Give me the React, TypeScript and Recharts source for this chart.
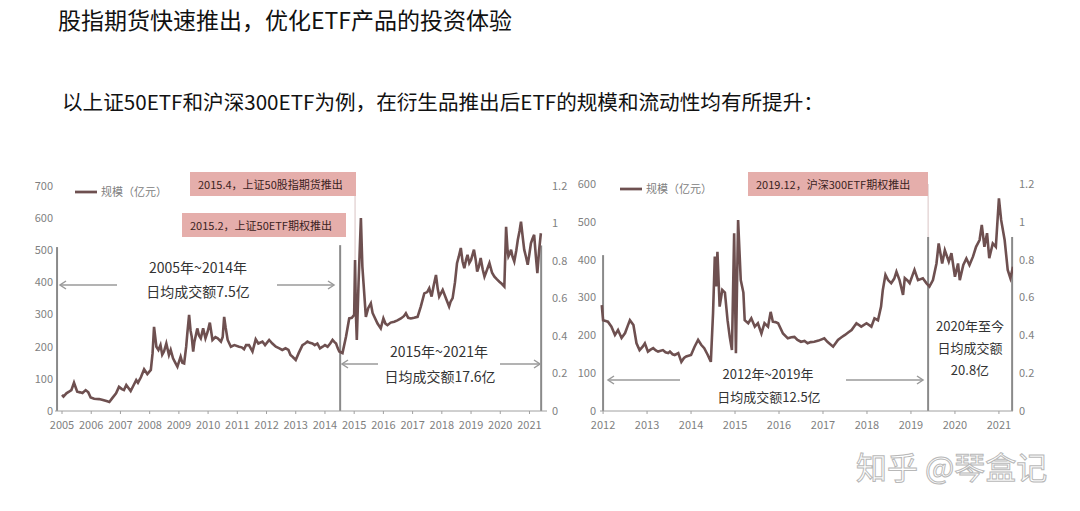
import React from "react";
import { LineChart, Line, XAxis, YAxis, ReferenceLine, Legend } from "recharts";

// 上证50ETF 规模（亿元）
const leftYears = [
  2005.0, 2005.05, 2005.15, 2005.24, 2005.32, 2005.41, 2005.52, 2005.62, 2005.7, 2005.81, 2005.9, 2005.98,
  2006.1, 2006.27, 2006.4, 2006.55, 2006.62, 2006.72, 2006.85, 2006.95, 2007.05, 2007.12, 2007.2, 2007.35,
  2007.45, 2007.54, 2007.6, 2007.7, 2007.81, 2007.92, 2008.04, 2008.1, 2008.15, 2008.23, 2008.3, 2008.37,
  2008.43, 2008.49, 2008.57, 2008.66, 2008.72, 2008.8, 2008.88, 2008.95, 2009.06, 2009.12, 2009.18, 2009.25,
  2009.29, 2009.35, 2009.4, 2009.44, 2009.49, 2009.53, 2009.57, 2009.63, 2009.69, 2009.75, 2009.83, 2009.91,
  2009.98, 2010.06, 2010.15, 2010.25, 2010.33, 2010.44, 2010.5, 2010.55, 2010.6, 2010.67, 2010.78, 2010.9,
  2011.06, 2011.15, 2011.23, 2011.3, 2011.4, 2011.52, 2011.63, 2011.72, 2011.86, 2011.95, 2012.09, 2012.2,
  2012.32, 2012.44, 2012.54, 2012.65, 2012.75, 2012.82, 2012.9, 2013.0, 2013.1, 2013.23, 2013.32, 2013.4,
  2013.48, 2013.57, 2013.65, 2013.74, 2013.83, 2013.92, 2014.0, 2014.09, 2014.18, 2014.26, 2014.32, 2014.38,
  2014.44, 2014.49, 2014.6, 2014.72, 2014.83, 2014.92, 2015.0, 2015.03, 2015.06, 2015.09, 2015.15, 2015.23,
  2015.28, 2015.32, 2015.4, 2015.48, 2015.57, 2015.63, 2015.69, 2015.8, 2015.91, 2016.0, 2016.07, 2016.14,
  2016.25, 2016.37, 2016.48, 2016.6, 2016.7, 2016.77, 2016.85, 2016.94, 2017.05, 2017.17, 2017.28, 2017.4,
  2017.5, 2017.57, 2017.65, 2017.72, 2017.8, 2017.86, 2017.91, 2018.03, 2018.14, 2018.25, 2018.3, 2018.37,
  2018.45, 2018.52, 2018.58, 2018.65, 2018.71, 2018.77, 2018.83, 2018.88, 2018.94, 2019.0, 2019.1, 2019.16,
  2019.21, 2019.27, 2019.33, 2019.4, 2019.46, 2019.55, 2019.63, 2019.72, 2019.8, 2019.88, 2019.97, 2020.06,
  2020.14, 2020.2, 2020.25, 2020.28, 2020.33, 2020.37, 2020.42, 2020.48, 2020.55, 2020.6, 2020.66, 2020.71,
  2020.77, 2020.82, 2020.88, 2020.94, 2021.0, 2021.05, 2021.1, 2021.16, 2021.22, 2021.27, 2021.33, 2021.39,
];
const leftScale = [
  50, 45, 55, 60, 65, 88, 60, 58, 56, 65, 58, 42,
  38, 37, 34, 30, 28, 40, 55, 75, 68, 65, 81, 62,
  80, 96, 88, 105, 130, 115, 128, 180, 262, 200, 190, 205,
  175, 185, 210, 174, 190, 164, 150, 138, 169, 150, 148, 200,
  242, 299, 250, 231, 185, 215, 231, 257, 235, 226, 257, 226,
  245, 275, 221, 230, 226, 216, 230, 293, 260, 221, 200, 205,
  200, 198, 192, 205, 205, 185, 223, 210, 216, 205, 221, 210,
  200, 195, 190, 195, 190, 174, 168, 159, 180, 205, 210, 216,
  212, 210, 205, 210, 195, 200, 205, 200, 210, 221, 215, 210,
  195, 185, 180, 231, 288, 290, 299, 470, 300, 221, 398, 600,
  450, 398, 293, 320, 335, 305, 293, 272, 257, 288, 272, 267,
  275, 278, 282, 288, 295, 304, 290, 288, 290, 293, 325, 366,
  370, 382, 356, 390, 423, 380, 356, 377, 351, 325, 340, 351,
  400, 460, 480, 507, 465, 444, 470, 486, 460, 470, 502, 470,
  434, 450, 476, 440, 418, 440, 460, 430, 418, 410, 402, 395,
  387, 573, 500, 481, 490, 502, 480, 465, 500, 532, 560, 589,
  540, 502, 480, 455, 490, 522, 535, 548, 480, 429, 500, 553,
];

// 沪深300ETF 规模（亿元）
const rightYears = [
  2011.97, 2012.0, 2012.06, 2012.11, 2012.19, 2012.27, 2012.34, 2012.42, 2012.5, 2012.56, 2012.61, 2012.69,
  2012.76, 2012.83, 2012.9, 2012.95, 2013.02, 2013.08, 2013.14, 2013.2, 2013.25, 2013.36, 2013.42, 2013.48,
  2013.52, 2013.58, 2013.63, 2013.71, 2013.78, 2013.84, 2013.89, 2014.0, 2014.08, 2014.16, 2014.23, 2014.3,
  2014.38, 2014.45, 2014.5, 2014.54, 2014.57, 2014.6, 2014.65, 2014.71, 2014.77, 2014.83, 2014.88, 2014.93,
  2014.98, 2015.02, 2015.07, 2015.13, 2015.19, 2015.22, 2015.3, 2015.37, 2015.45, 2015.52, 2015.6, 2015.67,
  2015.75, 2015.81, 2015.86, 2015.92, 2015.98, 2016.09, 2016.2, 2016.28, 2016.35, 2016.42, 2016.5, 2016.58,
  2016.65, 2016.72, 2016.8, 2016.9, 2017.03, 2017.1, 2017.23, 2017.34, 2017.42, 2017.5, 2017.58, 2017.65,
  2017.76, 2017.87, 2017.99, 2018.1, 2018.17, 2018.25, 2018.32, 2018.36, 2018.42, 2018.48, 2018.55, 2018.62,
  2018.67, 2018.74, 2018.82, 2018.86, 2018.92, 2018.97, 2019.08, 2019.16, 2019.27, 2019.35, 2019.42, 2019.5,
  2019.58, 2019.63, 2019.71, 2019.77, 2019.86, 2019.92, 2020.0, 2020.07, 2020.11, 2020.19, 2020.26, 2020.33,
  2020.41, 2020.48, 2020.56, 2020.61, 2020.67, 2020.73, 2020.78, 2020.86, 2020.93, 2021.0, 2021.05, 2021.13,
  2021.2, 2021.26, 2021.32,
];
const rightScale = [
  280, 240, 238, 236, 223, 201, 214, 193, 206, 225, 240, 227,
  179, 161, 170, 179, 157, 162, 166, 160, 157, 161, 155, 153,
  157, 150, 148, 153, 130, 140, 144, 148, 170, 188, 175, 166,
  148, 130, 258, 408, 329, 421, 276, 320, 313, 240, 196, 161,
  470, 153, 505, 346, 313, 240, 232, 245, 223, 232, 205, 232,
  223, 262, 236, 235, 232, 205, 192, 195, 196, 188, 183, 185,
  179, 182, 183, 186, 192, 183, 170, 188, 195, 201, 208, 214,
  232, 223, 232, 223, 245, 240, 276, 320, 360, 346, 338, 350,
  368, 346, 307, 351, 345, 338, 373, 346, 351, 338, 329, 346,
  390, 443, 390, 425, 395, 417, 355, 390, 346, 386, 403, 386,
  408, 434, 452, 492, 434, 470, 404, 443, 434, 562, 505, 452,
  373, 351, 381,
];

const leftYearTicks = [2005, 2006, 2007, 2008, 2009, 2010, 2011, 2012, 2013, 2014, 2015, 2016, 2017, 2018, 2019, 2020, 2021];
const rightYearTicks = [2012, 2013, 2014, 2015, 2016, 2017, 2018, 2019, 2020, 2021];
const leftScaleTicks = [0, 100, 200, 300, 400, 500, 600, 700];
const rightScaleTicks = [0, 100, 200, 300, 400, 500, 600];
const ratioTicks = [0, 0.2, 0.4, 0.6, 0.8, 1, 1.2];

const seriesName = "规模（亿元）";

const leftData = leftYears.map((x, i) => ({ x, y: leftScale[i] }));
const rightData = rightYears.map((x, i) => ({ x, y: rightScale[i] }));

const LINE = "#6e5050";
const DIV = "#8a8a8a";
const FONT = '"Noto Sans CJK SC", "Noto Sans", sans-serif';
const tickStyle = { fontSize: 11, fill: "#7f7f7f" };

const legendFormatter = (v: string) => <span style={{ color: "#808080", fontSize: 11 }}>{v}</span>;

function Box({ left, top, width, text }: { left: number; top: number; width: number; text: string }) {
  return (
    <div
      style={{
        position: "absolute",
        left,
        top,
        width,
        height: 24,
        background: "#e5aeab",
        color: "#3a2222",
        fontSize: 11,
        lineHeight: "24px",
        paddingLeft: 8,
        boxSizing: "border-box",
        whiteSpace: "nowrap",
      }}
    >
      {text}
    </div>
  );
}

function Label({ cx, cy, size, text }: { cx: number; cy: number; size: number; text: string }) {
  return (
    <div
      style={{
        position: "absolute",
        left: cx - 100,
        top: cy - size / 2 - 1,
        width: 200,
        textAlign: "center",
        fontSize: size,
        lineHeight: 1,
        color: "#333",
        whiteSpace: "nowrap",
      }}
    >
      {text}
    </div>
  );
}

const arrows = [
  // [x1, x2, y, direction] direction -1 = head left
  [60, 117, 285, -1],
  [277, 334, 285, 1],
  [342, 378, 364, -1],
  [500, 540, 364, 1],
  [608, 680, 380, -1],
  [846, 923, 380, 1],
];

export default function App() {
  return (
    <div
      style={{
        position: "absolute",
        left: 0,
        top: 0,
        width: 1080,
        height: 511,
        background: "#fff",
        fontFamily: FONT,
        overflow: "hidden",
      }}
    >
      <div style={{ position: "absolute", left: 58, top: 7, fontSize: 23, lineHeight: 1.1, color: "#111" }}>
        股指期货快速推出，优化ETF产品的投资体验
      </div>
      <div style={{ position: "absolute", left: 62, top: 90, fontSize: 20.6, lineHeight: 1.1, color: "#111" }}>
        以上证50ETF和沪深300ETF为例，在衍生品推出后ETF的规模和流动性均有所提升：
      </div>

      {/* left: 上证50ETF */}
      <div style={{ position: "absolute", left: 20, top: 170 }}>
        <LineChart width={557} height={271} data={leftData} margin={{ top: 16, right: 0, left: 0, bottom: 0 }}>
          <XAxis
            dataKey="x"
            type="number"
            domain={[2004.76, 2021.6]}
            ticks={leftYearTicks}
            interval={0}
            allowDataOverflow
            height={30}
            tickSize={3}
            tickMargin={7}
            axisLine={{ stroke: "#a0a0a0" }}
            tickLine={{ stroke: "#a0a0a0" }}
            tick={tickStyle}
          />
          <YAxis yAxisId="l" domain={[0, 700]} ticks={leftScaleTicks} width={35} axisLine={false} tickLine={false} tickSize={0} tickMargin={2} tick={tickStyle} />
          <YAxis yAxisId="r" orientation="right" type="number" domain={[0, 1.2]} allowDataOverflow ticks={ratioTicks} interval={0} width={30} axisLine={false} tickLine={false} tickSize={0} tickMargin={5} tick={tickStyle} />
          <Legend
            layout="horizontal"
            verticalAlign="middle"
            align="center"
            iconType="plainline"
            iconSize={22}
            formatter={legendFormatter}
            wrapperStyle={{ top: 7, left: 55, width: "auto" }}
          />
          <ReferenceLine yAxisId="l" segment={[{ x: 2004.83, y: 0 }, { x: 2004.83, y: 510 }]} stroke={DIV} strokeWidth={2} />
          <ReferenceLine yAxisId="l" segment={[{ x: 2014.52, y: 0 }, { x: 2014.52, y: 516 }]} stroke={DIV} strokeWidth={2} />
          <ReferenceLine yAxisId="l" segment={[{ x: 2021.4, y: 0 }, { x: 2021.4, y: 515 }]} stroke={DIV} strokeWidth={2} />
          <ReferenceLine yAxisId="l" segment={[{ x: 2015.03, y: 470 }, { x: 2015.03, y: 700 }]} stroke="#d9c4c4" strokeWidth={1} />
          <Line yAxisId="r" dataKey="y" legendType="none" stroke="none" dot={false} activeDot={false} isAnimationActive={false} />
          <Line yAxisId="l" name={seriesName} type="linear" dataKey="y" stroke={LINE} strokeWidth={2.6} dot={false} isAnimationActive={false} />
        </LineChart>
      </div>

      {/* right: 沪深300ETF */}
      <div style={{ position: "absolute", left: 560, top: 168 }}>
        <LineChart width={500} height={273} data={rightData} margin={{ top: 16, right: 0, left: 0, bottom: 0 }}>
          <XAxis
            dataKey="x"
            type="number"
            domain={[2011.93, 2021.32]}
            ticks={rightYearTicks}
            interval={0}
            allowDataOverflow
            height={30}
            tickSize={3}
            tickMargin={7}
            axisLine={{ stroke: "#a0a0a0" }}
            tickLine={{ stroke: "#a0a0a0" }}
            tick={tickStyle}
          />
          <YAxis yAxisId="l" domain={[0, 600]} ticks={rightScaleTicks} width={40} axisLine={false} tickLine={false} tickSize={0} tickMargin={4} tick={tickStyle} />
          <YAxis yAxisId="r" orientation="right" type="number" domain={[0, 1.2]} allowDataOverflow ticks={ratioTicks} interval={0} width={47} axisLine={false} tickLine={false} tickSize={0} tickMargin={6} tick={tickStyle} />
          <Legend
            layout="horizontal"
            verticalAlign="middle"
            align="center"
            iconType="plainline"
            iconSize={22}
            formatter={legendFormatter}
            wrapperStyle={{ top: 6, left: 60, width: "auto" }}
          />
          <ReferenceLine yAxisId="l" segment={[{ x: 2012.0, y: 0 }, { x: 2012.0, y: 412 }]} stroke={DIV} strokeWidth={2} />
          <ReferenceLine yAxisId="l" segment={[{ x: 2019.39, y: 0 }, { x: 2019.39, y: 460 }]} stroke={DIV} strokeWidth={2} />
          <ReferenceLine yAxisId="l" segment={[{ x: 2019.39, y: 460 }, { x: 2019.39, y: 600 }]} stroke="#d9c4c4" strokeWidth={1} />
          <ReferenceLine yAxisId="l" segment={[{ x: 2021.3, y: 0 }, { x: 2021.3, y: 460 }]} stroke={DIV} strokeWidth={2} />
          <Line yAxisId="r" dataKey="y" legendType="none" stroke="none" dot={false} activeDot={false} isAnimationActive={false} />
          <Line yAxisId="l" name={seriesName} type="linear" dataKey="y" stroke={LINE} strokeWidth={2.6} dot={false} isAnimationActive={false} />
        </LineChart>
      </div>

      <Box left={190} top={172} width={166} text="2015.4，上证50股指期货推出" />
      <Box left={182} top={213} width={164} text="2015.2，上证50ETF期权推出" />
      <Box left={748} top={172} width={180} text="2019.12，沪深300ETF期权推出" />

      <svg style={{ position: "absolute", left: 0, top: 0 }} width={1080} height={511}>
        {arrows.map(([x1, x2, y, d], i) => {
          const hx = d < 0 ? x1 : x2;
          return (
            <g key={i} stroke="#9a9a9a" strokeWidth={1.5} fill="none">
              <line x1={x1} y1={y} x2={x2} y2={y} />
              <polyline points={`${hx - d * 6},${y - 4} ${hx},${y} ${hx - d * 6},${y + 4}`} />
            </g>
          );
        })}
      </svg>

      <Label cx={198} cy={268} size={14} text="2005年~2014年" />
      <Label cx={198} cy={292} size={14} text="日均成交额7.5亿" />
      <Label cx={439} cy={352} size={14} text="2015年~2021年" />
      <Label cx={440} cy={377} size={14} text="日均成交额17.6亿" />
      <Label cx={768} cy={374} size={13} text="2012年~2019年" />
      <Label cx={769} cy={397} size={13} text="日均成交额12.5亿" />
      <Label cx={970} cy={326} size={13} text="2020年至今" />
      <Label cx={970} cy={348} size={13} text="日均成交额" />
      <Label cx={970} cy={370} size={13} text="20.8亿" />

      <div
        style={{
          position: "absolute",
          left: 856,
          top: 449,
          fontSize: 31,
          lineHeight: 1.1,
          color: "#fff",
          WebkitTextStroke: "1px #b8b8b8",
          whiteSpace: "nowrap",
        }}
      >
        知乎 @琴盒记
      </div>
    </div>
  );
}
